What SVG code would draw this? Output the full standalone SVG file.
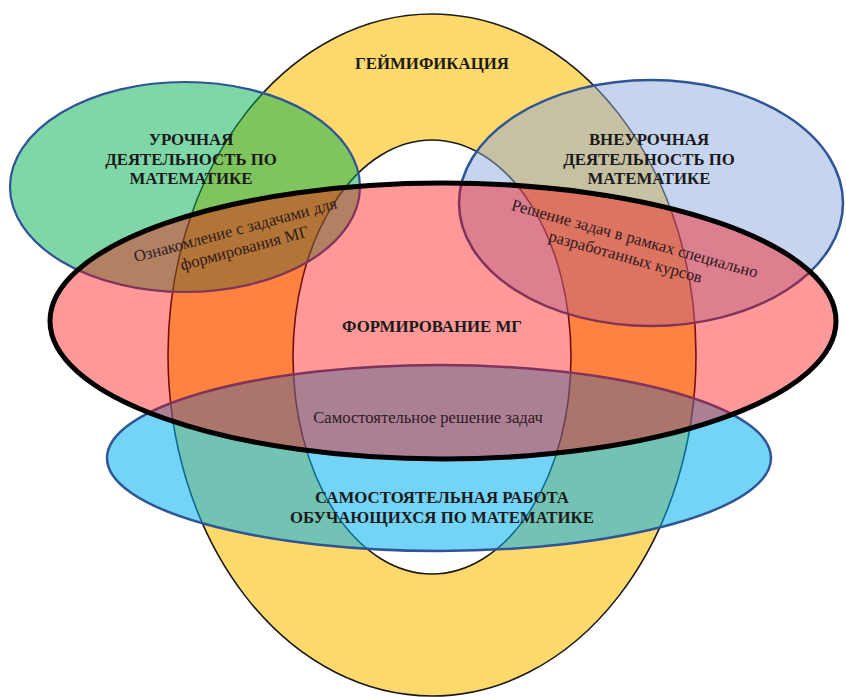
<svg xmlns="http://www.w3.org/2000/svg" width="846" height="697" viewBox="0 0 846 697">
<style>
.h{font-family:"Liberation Serif","DejaVu Serif","Times New Roman",serif;font-weight:bold;font-size:16.8px;fill:#1a1a1a;text-anchor:middle}
.t{font-family:"Liberation Serif","DejaVu Serif","Times New Roman",serif;font-size:16.6px;fill:#2e1a1e;text-anchor:middle}
</style>
<rect width="846" height="697" fill="#ffffff"/>
<g id="gamification">
<path d="M168,355 a264,341 0 1,0 528,0 a264,341 0 1,0 -528,0 Z M293,357 a139,217 0 1,0 278,0 a139,217 0 1,0 -278,0 Z" fill="#ffd96b" fill-rule="evenodd" stroke="#1a1a1a" stroke-width="1.6"/>
</g>
<g id="lesson">
<ellipse cx="185" cy="187" rx="175" ry="105" fill="#00b050" fill-opacity="0.5" stroke="#2f5597" stroke-width="2.2"/>
</g>
<g id="extracurricular">
<ellipse cx="651" cy="203" rx="192" ry="123" fill="#8faadc" fill-opacity="0.5" stroke="#2f5597" stroke-width="2.5"/>
</g>
<g id="selfwork">
<ellipse cx="439" cy="458" rx="332" ry="93" fill="#00b0f0" fill-opacity="0.55" stroke="#2f5597" stroke-width="2.5"/>
</g>
<g id="formation">
<ellipse cx="443" cy="321" rx="393" ry="138" fill="#ff0000" fill-opacity="0.4" stroke="#000000" stroke-width="5"/>
</g>
<g id="connectors"></g>
<g id="labels">
<text class="h" x="432" y="69">ГЕЙМИФИКАЦИЯ</text>
<text class="h" x="191" y="145">УРОЧНАЯ</text>
<text class="h" x="191" y="165">ДЕЯТЕЛЬНОСТЬ ПО</text>
<text class="h" x="191" y="184">МАТЕМАТИКЕ</text>
<text class="h" x="649" y="145">ВНЕУРОЧНАЯ</text>
<text class="h" x="649" y="165">ДЕЯТЕЛЬНОСТЬ ПО</text>
<text class="h" x="649" y="184">МАТЕМАТИКЕ</text>
<g transform="rotate(-15 238 240)">
<text class="t" x="238" y="235">Ознакомление с задачами для</text>
<text class="t" x="242" y="255">формирования МГ</text>
</g>
<g transform="rotate(15.5 630 248)">
<text class="t" x="632" y="243">Решение задач в рамках специально</text>
<text class="t" x="628" y="263">разработанных курсов</text>
</g>
<text class="h" x="432" y="332">ФОРМИРОВАНИЕ МГ</text>
<text class="t" x="428" y="423">Самостоятельное решение задач</text>
<text class="h" x="442" y="503">САМОСТОЯТЕЛЬНАЯ РАБОТА</text>
<text class="h" x="442" y="523">ОБУЧАЮЩИХСЯ ПО МАТЕМАТИКЕ</text>
</g>
</svg>
